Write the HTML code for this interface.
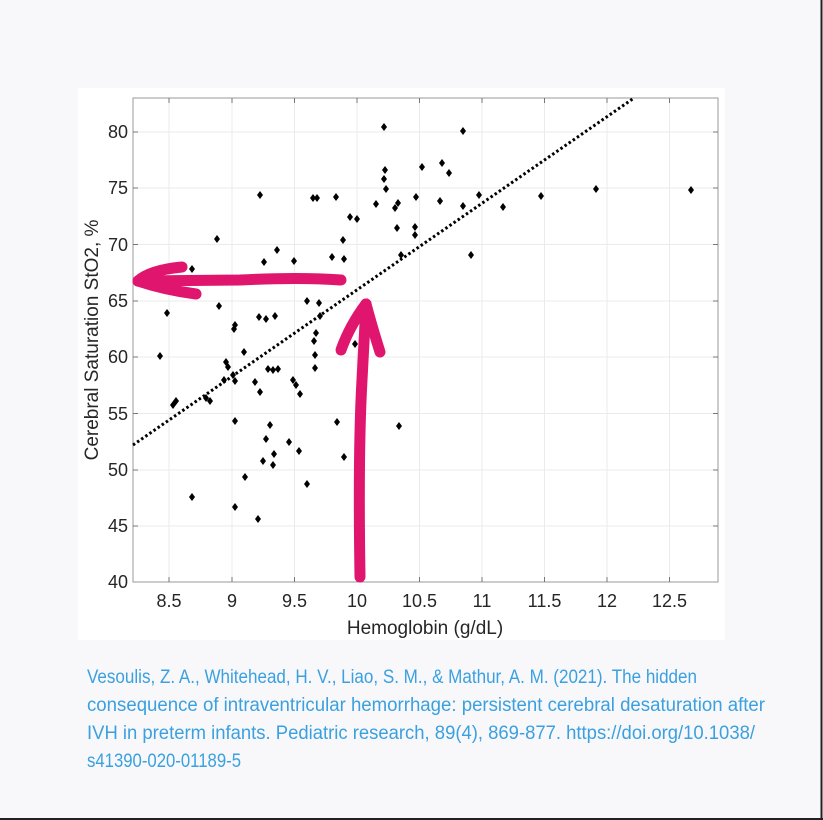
<!DOCTYPE html>
<html><head><meta charset="utf-8"><style>
html,body{margin:0;padding:0;background:#f8f8fa;}
svg{display:block;}
</style></head><body>
<svg width="823" height="820" viewBox="0 0 823 820" xmlns="http://www.w3.org/2000/svg">
<rect x="0" y="0" width="823" height="820" fill="#f8f8fa"/>
<line x1="821.5" y1="0" x2="821.5" y2="820" stroke="#222" stroke-width="2"/>
<line x1="0" y1="819" x2="823" y2="819" stroke="#222" stroke-width="2"/>
<rect x="78" y="88" width="647" height="552" fill="#fff"/>
<g stroke="#ebebeb" stroke-width="1">
<line x1="169" y1="98" x2="169" y2="582"/><line x1="232" y1="98" x2="232" y2="582"/>
<line x1="294.5" y1="98" x2="294.5" y2="582"/><line x1="357" y1="98" x2="357" y2="582"/>
<line x1="419.5" y1="98" x2="419.5" y2="582"/><line x1="482" y1="98" x2="482" y2="582"/>
<line x1="544.5" y1="98" x2="544.5" y2="582"/><line x1="607" y1="98" x2="607" y2="582"/>
<line x1="669.5" y1="98" x2="669.5" y2="582"/>
<line x1="133" y1="132" x2="718" y2="132"/><line x1="133" y1="188" x2="718" y2="188"/>
<line x1="133" y1="244.5" x2="718" y2="244.5"/><line x1="133" y1="301" x2="718" y2="301"/>
<line x1="133" y1="357" x2="718" y2="357"/><line x1="133" y1="413.5" x2="718" y2="413.5"/>
<line x1="133" y1="470" x2="718" y2="470"/><line x1="133" y1="526" x2="718" y2="526"/>
</g>
<rect x="133" y="98" width="585" height="484" fill="none" stroke="#999" stroke-width="1"/>
<g stroke="#777" stroke-width="1">
<path d="M169 582v-5M232 582v-5M294.5 582v-5M357 582v-5M419.5 582v-5M482 582v-5M544.5 582v-5M607 582v-5M669.5 582v-5"/>
<path d="M169 98v5M232 98v5M294.5 98v5M357 98v5M419.5 98v5M482 98v5M544.5 98v5M607 98v5M669.5 98v5"/>
<path d="M133 132h5M133 188h5M133 244.5h5M133 301h5M133 357h5M133 413.5h5M133 470h5M133 526h5"/>
<path d="M718 132h-5M718 188h-5M718 244.5h-5M718 301h-5M718 357h-5M718 413.5h-5M718 470h-5M718 526h-5"/>
</g>
<g font-family="Liberation Sans, sans-serif" font-size="18" fill="#262626" text-anchor="end">
<text x="128" y="138">80</text><text x="128" y="194">75</text><text x="128" y="251">70</text>
<text x="128" y="307">65</text><text x="128" y="363">60</text><text x="128" y="420">55</text>
<text x="128" y="476">50</text><text x="128" y="532">45</text><text x="128" y="588">40</text>
</g>
<g font-family="Liberation Sans, sans-serif" font-size="18" fill="#262626" text-anchor="middle">
<text x="169" y="607">8.5</text><text x="232" y="607">9</text><text x="294.5" y="607">9.5</text>
<text x="357" y="607">10</text><text x="419.5" y="607">10.5</text><text x="482" y="607">11</text>
<text x="544.5" y="607">11.5</text><text x="607" y="607">12</text><text x="669.5" y="607">12.5</text>
<text x="425" y="634" font-size="19">Hemoglobin (g/dL)</text>
<text transform="translate(98,340) rotate(-90)" font-size="19">Cerebral Saturation StO2, %</text>
</g>
<line x1="133" y1="445" x2="634" y2="98" stroke="#000" stroke-width="3" stroke-dasharray="2.5 2.5"/>
<g fill="#000">
<path d="M160 352l3 4-3 4-3-4z M167 309l3 4-3 4-3-4z M192 265l3 4-3 4-3-4z M217 235l3 4-3 4-3-4z M192 493l3 4-3 4-3-4z M176 397l3 4-3 4-3-4z M173 401l3 4-3 4-3-4z M206 394l3 4-3 4-3-4z M210 397l3 4-3 4-3-4z M219 302l3 4-3 4-3-4z"/>
<path d="M234 325l3 4-3 4-3-4z M235 321l3 4-3 4-3-4z M235 417l3 4-3 4-3-4z M235 503l3 4-3 4-3-4z M244 348l3 4-3 4-3-4z M245 473l3 4-3 4-3-4z M226 358l3 4-3 4-3-4z M228 363l3 4-3 4-3-4z M235 377l3 4-3 4-3-4z M224 376l3 4-3 4-3-4z M233 371l3 4-3 4-3-4z"/>
<path d="M260 191l3 4-3 4-3-4z M264 258l3 4-3 4-3-4z M277 246l3 4-3 4-3-4z M294 257l3 4-3 4-3-4z M259 313l3 4-3 4-3-4z M266 315l3 4-3 4-3-4z M275 312l3 4-3 4-3-4z M255 378l3 4-3 4-3-4z M260 388l3 4-3 4-3-4z M268 365l3 4-3 4-3-4z M273 366l3 4-3 4-3-4z M278 365l3 4-3 4-3-4z"/>
<path d="M258 515l3 4-3 4-3-4z M270 421l3 4-3 4-3-4z M266 435l3 4-3 4-3-4z M274 450l3 4-3 4-3-4z M263 457l3 4-3 4-3-4z M273 461l3 4-3 4-3-4z M289 438l3 4-3 4-3-4z M299 447l3 4-3 4-3-4z M293 376l3 4-3 4-3-4z M296 381l3 4-3 4-3-4z M300 390l3 4-3 4-3-4z M307 480l3 4-3 4-3-4z"/>
<path d="M313 194l3 4-3 4-3-4z M317 194l3 4-3 4-3-4z M336 193l3 4-3 4-3-4z M350 213l3 4-3 4-3-4z M357 215l3 4-3 4-3-4z M343 236l3 4-3 4-3-4z M332 253l3 4-3 4-3-4z M344 255l3 4-3 4-3-4z M319 299l3 4-3 4-3-4z M320 312l3 4-3 4-3-4z M316 329l3 4-3 4-3-4z M314 337l3 4-3 4-3-4z M315 351l3 4-3 4-3-4z M315 364l3 4-3 4-3-4z M307 297l3 4-3 4-3-4z M337 418l3 4-3 4-3-4z M344 453l3 4-3 4-3-4z"/>
<path d="M384 123l3 4-3 4-3-4z M385 166l3 4-3 4-3-4z M384 175l3 4-3 4-3-4z M386 185l3 4-3 4-3-4z M376 200l3 4-3 4-3-4z M398 199l3 4-3 4-3-4z M395 204l3 4-3 4-3-4z M397 224l3 4-3 4-3-4z M416 193l3 4-3 4-3-4z M415 223l3 4-3 4-3-4z M415 231l3 4-3 4-3-4z M422 163l3 4-3 4-3-4z M442 159l3 4-3 4-3-4z M449 169l3 4-3 4-3-4z M440 197l3 4-3 4-3-4z M463 127l3 4-3 4-3-4z M463 202l3 4-3 4-3-4z M479 191l3 4-3 4-3-4z M503 203l3 4-3 4-3-4z M401 251l3 4-3 4-3-4z M471 251l3 4-3 4-3-4z M399 422l3 4-3 4-3-4z M541 192l3 4-3 4-3-4z M596 185l3 4-3 4-3-4z M691 186l3 4-3 4-3-4z M355 340l3 4-3 4-3-4z"/>
</g>
<g stroke="#e0156e" stroke-width="11" stroke-linecap="round" stroke-linejoin="round" fill="none">
<path d="M341 280 Q300 277 240 280 L138 281"/>
<path d="M138 281 Q150 270 182 267"/>
<path d="M138 281 Q165 290 196 294"/>
<path d="M360 577 Q358 450 362 380 L366 304"/>
<path d="M366 304 Q350 325 341 350"/>
<path d="M366 304 Q373 330 380 352"/>
</g>
<g font-family="Liberation Sans, sans-serif" font-size="19" fill="#3aa0e0">
<text x="87" y="683" textLength="610" lengthAdjust="spacingAndGlyphs">Vesoulis, Z. A., Whitehead, H. V., Liao, S. M., &amp; Mathur, A. M. (2021). The hidden</text>
<text x="87" y="711" textLength="678" lengthAdjust="spacingAndGlyphs">consequence of intraventricular hemorrhage: persistent cerebral desaturation after</text>
<text x="87" y="739" textLength="668" lengthAdjust="spacingAndGlyphs">IVH in preterm infants. Pediatric research, 89(4), 869-877. https://doi.org/10.1038/</text>
<text x="87" y="767" textLength="154" lengthAdjust="spacingAndGlyphs">s41390-020-01189-5</text>
</g>
</svg>
</body></html>
